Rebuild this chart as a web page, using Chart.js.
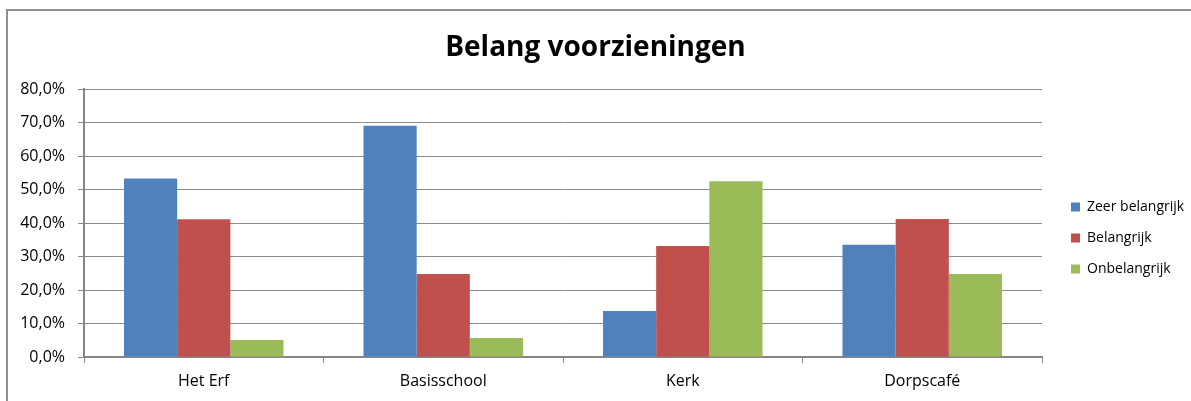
<!DOCTYPE html>
<html>
<head>
<meta charset="utf-8">
<script src="https://cdn.jsdelivr.net/npm/chart.js@4"></script>
<style>
  html, body { margin: 0; padding: 0; background: #fff; }
  #wrap { position: relative; width: 1191px; height: 401px; overflow: hidden; }
  #frame { position: absolute; left: 6px; top: 9px; width: 1200px; height: 400px;
           border-left: 2px solid #8f8f8f; border-top: 2px solid #8f8f8f; }
  canvas { position: absolute; left: 0; top: 0; }
</style>
</head>
<body>
<div id="wrap">
  <div id="frame"></div>
  <canvas id="c" width="1191" height="401"></canvas>
</div>
<script>
const categories = ['Het Erf', 'Basisschool', 'Kerk', 'Dorpscafé'];
const seriesNames = ['Zeer belangrijk', 'Belangrijk', 'Onbelangrijk'];
const zeerBelangrijk = [53.3, 69.0, 13.7, 33.5];
const belangrijk = [41.1, 24.8, 33.1, 41.2];
const onbelangrijk = [5.1, 5.7, 52.5, 24.8];
const yTicks = [0, 10, 20, 30, 40, 50, 60, 70, 80];
const colors = ['#4F81BD', '#C0504D', '#9BBB59'];

const fmt = v => v.toFixed(1).replace('.', ',') + '%';

const legendPlace = {
  id: 'legendPlace',
  afterInit(chart) {
    const lg = chart.legend;
    const orig = lg.fit.bind(lg);
    lg.fit = function () { orig(); this.width = 149; };
  },
  afterLayout(chart) {
    const lg = chart.legend;
    const pad = lg.options.labels.padding;
    const w = lg.right - lg.left;
    const h = lg.bottom - lg.top;
    lg.left = 1071 - pad;
    lg.right = lg.left + w;
    lg.top = 207 - 7 - pad;
    lg.bottom = lg.top + h;
  }
};

new Chart(document.getElementById('c'), {
  type: 'bar',
  data: {
    labels: categories,
    datasets: [
      { label: seriesNames[0], data: zeerBelangrijk, backgroundColor: colors[0] },
      { label: seriesNames[1], data: belangrijk, backgroundColor: colors[1] },
      { label: seriesNames[2], data: onbelangrijk, backgroundColor: colors[2] }
    ]
  },
  options: {
    responsive: false,
    animation: false,
    devicePixelRatio: 1,
    layout: { padding: 0 },
    datasets: { bar: { categoryPercentage: 0.666, barPercentage: 1.0, borderWidth: 0 } },
    plugins: {
      title: {
        display: true,
        text: 'Belang voorzieningen',
        color: '#000',
        font: { family: 'Open Sans', size: 28, weight: 'bold' },
        padding: { top: 31, bottom: 24.4 }
      },
      legend: {
        position: 'right',
        align: 'start',
        labels: {
          color: '#000',
          font: { family: 'Open Sans', size: 14 },
          boxWidth: 9,
          boxHeight: 9,
          padding: 17
        }
      },
      tooltip: { enabled: false }
    },
    scales: {
      x: {
        afterFit(scale) { scale.height = 44; },
        grid: { display: true, drawOnChartArea: false, offset: true, tickLength: 6, color: '#8a8a8a', lineWidth: 1 },
        border: { display: true, color: '#868686', width: 2 },
        ticks: { color: '#000', font: { family: 'Open Sans', size: 16 }, padding: 9, maxRotation: 0 }
      },
      y: {
        min: 0,
        max: 80,
        afterFit(scale) { scale.width = 84; },
        afterBuildTicks(scale) { scale.ticks = yTicks.map(v => ({ value: v })); },
        grid: { color: '#8a8a8a', lineWidth: 1, tickLength: 6 },
        border: { display: true, color: '#868686', width: 2 },
        ticks: { color: '#000', font: { family: 'Open Sans', size: 16 }, padding: 13, callback: v => fmt(v) }
      }
    }
  },
  plugins: [legendPlace]
});
</script>
</body>
</html>
